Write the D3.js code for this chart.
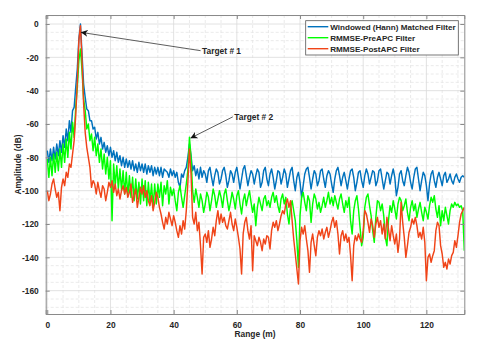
<!DOCTYPE html>
<html><head><meta charset="utf-8">
<script src="https://cdn.jsdelivr.net/npm/d3@7"></script>
<style>body{margin:0;background:#fff}svg{display:block}text{font-family:"Liberation Sans",Arial,sans-serif;font-weight:bold;fill:#262626}</style>
</head><body>
<svg id="c" width="491" height="343"></svg>
<script>
// Range samples (m): 0 .. 132 every 0.5 m
const rangeStart = 0, rangeStep = 0.5;
const seriesNames = ["Windowed (Hann) Matched Filter", "RMMSE-PreAPC Filter", "RMMSE-PostAPC Filter"];
const seriesColors = ["#0072BD", "#00FF00", "#F04418"];
const xTicks = [0, 20, 40, 60, 80, 100, 120];
const yTicks = [0, -20, -40, -60, -80, -100, -120, -140, -160];
const xLabel = "Range (m)";
const yLabel = "Amplitude (dB)";
const annotations = [
  {text: "Target # 1", tx: 49, ty: -16, px: 10.6, py: -5},
  {text: "Target # 2", tx: 59.2, ty: -55.7, px: 45.3, py: -68.5}
];

const hannMF = [
-76,-83,-75,-82,-74,-81,-72,-79,-70,-77,
-67,-74,-63,-70,-58,-65,-52,-50,-38,-27,
-9,0,-18,-36,-44,-51,-52,-58,-58,-63,
-62,-69,-65,-72,-68,-75,-71,-77,-73,-79,
-74,-80,-76,-82,-77,-83,-79,-85,-80,-86,
-81,-86,-82,-87,-82,-88,-84,-89,-83,-88,
-84,-89,-84,-90,-85,-89,-85,-91,-86,-90,
-86,-91,-86,-92,-87,-88,-89,-92,-87,-91,
-88,-92,-89,-95,-98,-90,-92,-88,-86,-80,
-72,-79,-88,-85,-91,-87,-93,-86,-92,-88,
-90,-95,-88,-86,-92,-97,-91,-87,-89,-96,
-93,-88,-86,-91,-98,-94,-88,-90,-95,-89,
-86,-92,-99,-93,-87,-85,-91,-97,-92,-88,
-90,-96,-91,-87,-89,-98,-95,-88,-86,-93,
-97,-90,-87,-92,-99,-94,-88,-89,-96,-92,
-87,-90,-98,-93,-88,-86,-94,-100,-92,-89,
-95,-104,-97,-90,-87,-86,-92,-99,-93,-88,
-90,-97,-94,-88,-87,-93,-98,-91,-88,-90,
-96,-101,-93,-88,-86,-91,-97,-92,-89,-94,
-99,-93,-88,-87,-92,-100,-95,-89,-88,-94,
-98,-91,-87,-90,-96,-92,-88,-89,-97,-94,
-88,-87,-93,-99,-94,-89,-90,-96,-91,-87,
-92,-103,-98,-90,-88,-94,-97,-91,-86,-89,
-95,-99,-92,-87,-86,-93,-100,-94,-89,-91,
-97,-106,-96,-90,-88,-94,-98,-92,-89,-93,
-97,-91,-89,-95,-93,-90,-94,-96,-92,-90,
-93,-95,-92,-91,-92];

const preAPC = [
-81,-92,-80,-91,-78,-89,-77,-88,-75,-86,
-72,-83,-69,-80,-65,-75,-59,-68,-50,-38,
-22,-15,-28,-45,-52,-63,-60,-70,-66,-76,
-68,-79,-72,-83,-75,-87,-78,-90,-80,-93,
-82,-118,-84,-97,-85,-99,-87,-100,-88,-102,
-89,-103,-91,-104,-92,-106,-93,-105,-95,-108,
-93,-106,-94,-109,-95,-107,-96,-110,-96,-108,
-96,-104,-95,-109,-97,-102,-94,-108,-98,-103,
-99,-106,-112,-101,-97,-104,-110,-103,-96,-88,
-68,-80,-100,-107,-99,-104,-110,-102,-106,-113,
-108,-101,-104,-112,-106,-99,-103,-110,-105,-100,
-104,-110,-102,-99,-106,-112,-107,-101,-105,-111,
-103,-100,-108,-114,-106,-102,-109,-104,-100,-107,
-113,-108,-121,-110,-104,-108,-112,-105,-103,-109,
-106,-110,-104,-101,-107,-103,-109,-113,-105,-102,
-108,-104,-114,-120,-110,-106,-112,-118,-130,-146,
-115,-104,-101,-107,-112,-103,-106,-119,-108,-102,
-105,-111,-107,-113,-109,-104,-110,-106,-101,-108,
-104,-109,-103,-107,-111,-105,-102,-108,-113,-106,
-110,-104,-118,-126,-112,-106,-103,-111,-122,-133,
-128,-110,-104,-102,-109,-115,-124,-131,-116,-106,
-107,-112,-108,-115,-128,-133,-118,-109,-113,-106,
-111,-117,-108,-104,-106,-112,-109,-105,-113,-118,
-110,-106,-112,-108,-116,-111,-107,-113,-118,-110,
-113,-117,-109,-104,-107,-103,-111,-116,-109,-121,
-112,-118,-110,-115,-120,-112,-108,-110,-107,-109,
-108,-110,-109,-112,-136];

const postAPC = [
-100,-106,-102,-96,-93,-99,-104,-101,-112,-98,
-93,-97,-89,-92,-84,-86,-78,-70,-55,-35,
-10,-1,-22,-48,-65,-74,-80,-86,-98,-94,
-96,-102,-95,-100,-104,-97,-99,-106,-101,-95,
-98,-94,-101,-96,-103,-99,-105,-100,-97,-102,
-98,-104,-101,-96,-107,-103,-99,-110,-104,-98,
-102,-97,-104,-100,-106,-109,-103,-112,-107,-101,
-104,-110,-114,-119,-123,-116,-120,-113,-117,-121,
-115,-119,-124,-128,-121,-126,-118,-123,-112,-95,
-75,-90,-116,-120,-113,-124,-119,-133,-150,-128,
-126,-131,-124,-134,-129,-122,-127,-118,-112,-120,
-114,-119,-116,-121,-123,-118,-113,-120,-124,-117,
-122,-128,-135,-150,-126,-119,-116,-124,-129,-121,
-148,-127,-130,-133,-128,-131,-136,-129,-132,-127,
-128,-135,-124,-119,-122,-118,-124,-120,-115,-112,
-114,-108,-105,-110,-106,-118,-129,-138,-147,-156,
-130,-122,-126,-121,-129,-136,-149,-131,-126,-133,
-139,-128,-124,-127,-123,-129,-125,-122,-128,-124,
-119,-116,-122,-118,-126,-138,-127,-124,-130,-126,
-131,-128,-139,-154,-133,-127,-130,-126,-129,-131,
-124,-112,-114,-119,-125,-117,-121,-128,-120,-116,
-122,-118,-126,-120,-129,-116,-123,-130,-121,-127,
-132,-126,-137,-129,-107,-119,-128,-140,-133,-125,
-122,-117,-120,-116,-121,-128,-125,-129,-122,-131,
-154,-140,-138,-143,-139,-136,-124,-119,-121,-133,
-138,-146,-143,-147,-141,-144,-139,-137,-130,-134,
-127,-119,-114,-112,-110];

const allSeries = [hannMF, preAPC, postAPC];

const svg = d3.select("#c");
const L = 45.7, R = 464.3, T = 15, B = 314;
const x = d3.scaleLinear().domain([-0.5, 132]).range([L, R]);
const y = d3.scaleLinear().domain([-174, 5.4]).range([B, T]);

svg.append("rect").attr("x", L).attr("y", T).attr("width", R - L).attr("height", B - T).attr("fill", "#fff");

// minor grid
const g = svg.append("g");
d3.range(5, 132, 5).filter(v => v % 20 !== 0).forEach(v => {
  g.append("line").attr("x1", x(v)).attr("x2", x(v)).attr("y1", T).attr("y2", B)
   .attr("stroke", "#e4e4e4").attr("stroke-width", 0.8).attr("stroke-dasharray", "3,2");
});
d3.range(-170, 5.1, 5).filter(v => v % 20 !== 0).forEach(v => {
  g.append("line").attr("x1", L).attr("x2", R).attr("y1", y(v)).attr("y2", y(v))
   .attr("stroke", "#e4e4e4").attr("stroke-width", 0.8).attr("stroke-dasharray", "3,2");
});
// major grid
xTicks.forEach(v => g.append("line").attr("x1", x(v)).attr("x2", x(v)).attr("y1", T).attr("y2", B).attr("stroke", "#dadada").attr("stroke-width", 0.8));
yTicks.forEach(v => g.append("line").attr("x1", L).attr("x2", R).attr("y1", y(v)).attr("y2", y(v)).attr("stroke", "#dadada").attr("stroke-width", 0.8));

// series
svg.append("clipPath").attr("id", "clip").append("rect").attr("x", L).attr("y", T).attr("width", R - L).attr("height", B - T);
const line = d3.line().x((d, i) => x(rangeStart + i * rangeStep)).y(d => y(d));
const lg = svg.append("g").attr("clip-path", "url(#clip)");
allSeries.forEach((s, k) => {
  lg.append("path").datum(s).attr("d", line).attr("fill", "none")
    .attr("stroke", seriesColors[k]).attr("stroke-width", 1.45).attr("stroke-linejoin", "round");
});

// axes (ticks inside, box)
const axB = d3.axisBottom(x).tickValues(xTicks).tickSize(-4).tickPadding(8).tickFormat(d3.format("d"));
const axL = d3.axisLeft(y).tickValues(yTicks).tickSize(-4).tickPadding(7).tickFormat(d => d);
const axT = d3.axisTop(x).tickValues(xTicks).tickSize(-4).tickFormat("");
const axR = d3.axisRight(y).tickValues(yTicks).tickSize(-4).tickFormat("");
function style(sel) {
  sel.selectAll("path").attr("stroke", "#8a8a8a").attr("stroke-width", 1);
  sel.selectAll("line").attr("stroke", "#8a8a8a");
  sel.selectAll("text").attr("font-size", 8.4).attr("font-weight", "bold").attr("fill", "#262626").attr("font-family", "Liberation Sans, Arial, sans-serif");
}
svg.append("g").attr("transform", `translate(0,${B})`).call(axB).call(style);
svg.append("g").attr("transform", `translate(${L},0)`).call(axL).call(style);
svg.append("g").attr("transform", `translate(0,${T})`).call(axT).call(style);
svg.append("g").attr("transform", `translate(${R},0)`).call(axR).call(style);

// axis labels
svg.append("text").attr("x", (L + R) / 2).attr("y", 336.5).attr("text-anchor", "middle").attr("font-size", 8.4).text(xLabel);
svg.append("text").attr("transform", `translate(21,${(T + B) / 2}) rotate(-90)`).attr("text-anchor", "middle").attr("font-size", 8.4).text(yLabel);

// annotations
const defs = svg.append("defs");
defs.append("marker").attr("id", "ah").attr("viewBox", "0 0 10 10").attr("refX", 10).attr("refY", 5)
  .attr("markerWidth", 7).attr("markerHeight", 7).attr("markerUnits", "userSpaceOnUse").attr("orient", "auto")
  .append("path").attr("d", "M0,0 L10,5 L0,10 L3,5 Z").attr("fill", "#111");
annotations.forEach(a => {
  svg.append("line").attr("x1", x(a.tx) - 1.5).attr("y1", y(a.ty)).attr("x2", x(a.px)).attr("y2", y(a.py))
    .attr("stroke", "#333").attr("stroke-width", 0.8).attr("marker-end", "url(#ah)");
  svg.append("text").attr("x", x(a.tx)).attr("y", y(a.ty) + 3).attr("font-size", 8.4).text(a.text);
});

// legend
const lgx = 305.7, lgy = 20.7, lgw = 152.6, lgh = 34.3;
const leg = svg.append("g");
leg.append("rect").attr("x", lgx).attr("y", lgy).attr("width", lgw).attr("height", lgh).attr("fill", "#fff").attr("stroke", "#555").attr("stroke-width", 0.8);
seriesNames.forEach((n, i) => {
  const cy = lgy + 6 + i * 11;
  leg.append("line").attr("x1", lgx + 2).attr("x2", lgx + 22.6).attr("y1", cy).attr("y2", cy).attr("stroke", seriesColors[i]).attr("stroke-width", 1.4);
  leg.append("text").attr("x", lgx + 24.5).attr("y", cy + 3).attr("font-size", 8.1).text(n);
});
</script>
</body></html>
